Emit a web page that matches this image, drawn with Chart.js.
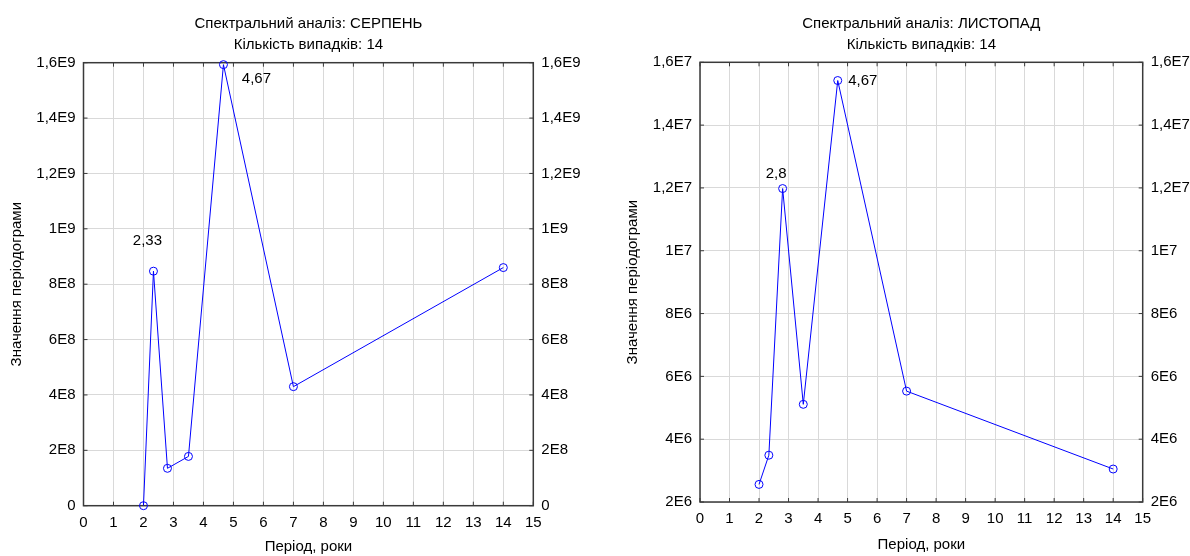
<!DOCTYPE html>
<html>
<head>
<meta charset="utf-8">
<script src="https://cdn.jsdelivr.net/npm/chart.js@4.4.0/dist/chart.umd.min.js"></script>
<style>
    body { margin: 0; background: #fff; }
    .panel { position: absolute; top: 0; width: 595px; height: 556px; }
    #left { left: 0; }
    #right { left: 595px; }
</style>
</head>
<body>
<div class="panel" id="left"><canvas id="chartAug" width="595" height="556"></canvas></div>
<div class="panel" id="right"><canvas id="chartNov" width="595" height="556"></canvas></div>
<script>
// Data
const periods = [2, 2.333, 2.8, 3.5, 4.667, 7, 14];
const augustValues = [0, 8.47e8, 1.35e8, 1.78e8, 1.593e9, 4.3e8, 8.6e8];
const novemberValues = [2.56e6, 3.49e6, 11.98e6, 5.11e6, 15.42e6, 5.53e6, 3.05e6];
const augustLabeled = [1, 4];
const novemberLabeled = [2, 4];
const xTicks = { min: 0, max: 15, step: 1 };
const augustY = { min: 0, max: 1.6e9, step: 2e8 };
const novemberY = { min: 2e6, max: 1.6e7, step: 2e6 };

const FONT = 'Arial, "Liberation Sans", sans-serif';
Chart.defaults.font.family = FONT;
Chart.defaults.font.size = 15;
Chart.defaults.color = '#000';

const GRID = '#d9d9d9';
const FRAME = '#3a3a3a';
const BLUE = '#0000ff';

// 1,6E9 style labels (comma decimal)
function sciLabel(v) {
    if (Math.abs(v) < 1e-6) return '0';
    const e = Math.floor(Math.log10(Math.abs(v)) + 1e-9);
    const m = Math.round(v / Math.pow(10, e) * 100) / 100;
    return String(m).replace('.', ',') + 'E' + e;
}

function periodLabel(x) {
    return String(Math.round(x * 100) / 100).replace('.', ',');
}

// Frame round the plot area with short inward ticks
const framePlugin = {
    id: 'frame',
    beforeDatasetsDraw(chart) {
        const { ctx, chartArea: a, scales } = chart;
        ctx.save();
        ctx.strokeStyle = FRAME;
        ctx.lineWidth = 1.5;
        ctx.strokeRect(a.left, a.top, a.right - a.left, a.bottom - a.top);
        ctx.lineWidth = 1;
        ctx.beginPath();
        scales.x.ticks.forEach(t => {
            const px = scales.x.getPixelForValue(t.value);
            ctx.moveTo(px, a.bottom); ctx.lineTo(px, a.bottom - 4);
            ctx.moveTo(px, a.top); ctx.lineTo(px, a.top + 4);
        });
        scales.y.ticks.forEach(t => {
            const py = scales.y.getPixelForValue(t.value);
            ctx.moveTo(a.left, py); ctx.lineTo(a.left + 4, py);
            ctx.moveTo(a.right, py); ctx.lineTo(a.right - 4, py);
        });
        ctx.stroke();
        ctx.restore();
    }
};

// Period labels next to chosen peaks
const peakLabelPlugin = {
    id: 'peakLabels',
    afterDatasetsDraw(chart, args, opts) {
        const { ctx, scales } = chart;
        const ds = chart.data.datasets[0].data;
        ctx.save();
        ctx.font = '15px ' + FONT;
        ctx.fillStyle = '#000';
        ctx.textAlign = 'center';
        ctx.textBaseline = 'middle';
        (opts.items || []).forEach(item => {
            const p = ds[item.index];
            const px = scales.x.getPixelForValue(p.x) + item.dx;
            const py = scales.y.getPixelForValue(p.y) + item.dy;
            ctx.fillText(periodLabel(p.x), px, py);
        });
        ctx.restore();
    }
};

function makeChart(canvasId, month, values, yRange, labeled, offsets, sizes) {
    const points = periods.map((p, i) => ({ x: p, y: values[i] }));
    return new Chart(document.getElementById(canvasId), {
        type: 'line',
        data: {
            datasets: [{
                data: points,
                borderColor: BLUE,
                borderWidth: 1,
                backgroundColor: 'rgba(0,0,0,0)',
                pointRadius: 4,
                pointBorderWidth: 1,
                pointBorderColor: BLUE,
                pointBackgroundColor: 'rgba(0,0,0,0)',
                tension: 0,
                clip: false
            }]
        },
        options: {
            responsive: false,
            animation: false,
            devicePixelRatio: 1,
            layout: { padding: 0 },
            plugins: {
                legend: { display: false },
                tooltip: { enabled: false },
                title: {
                    display: true,
                    fullSize: false,
                    text: ['Спектральний аналіз: ' + month, 'Кількість випадків: 14'],
                    font: { size: 15, weight: 'normal', lineHeight: 1.4 },
                    padding: { top: 13, bottom: sizes.titleBottom }
                },
                peakLabels: {
                    items: labeled.map((idx, k) => ({ index: idx, dx: offsets[k][0], dy: offsets[k][1] }))
                }
            },
            scales: {
                x: {
                    type: 'linear',
                    position: 'bottom',
                    min: xTicks.min,
                    max: xTicks.max,
                    ticks: { stepSize: xTicks.step, padding: 8, maxRotation: 0 },
                    grid: { color: GRID, drawTicks: false },
                    border: { display: false },
                    title: {
                        display: true,
                        text: 'Період, роки',
                        padding: { top: 0, bottom: sizes.xTitlePad }
                    },
                    afterFit: s => { s.height = sizes.xHeight; }
                },
                y: {
                    position: 'left',
                    min: yRange.min,
                    max: yRange.max,
                    ticks: { stepSize: yRange.step, padding: 8, callback: v => sciLabel(v) },
                    grid: { color: GRID, drawTicks: false },
                    border: { display: false },
                    title: {
                        display: true,
                        text: 'Значення періодограми',
                        padding: { top: sizes.yTitlePad, bottom: 0 }
                    },
                    afterFit: s => { s.width = sizes.leftWidth; }
                },
                y2: {
                    position: 'right',
                    min: yRange.min,
                    max: yRange.max,
                    ticks: { stepSize: yRange.step, padding: 8, callback: v => sciLabel(v) },
                    grid: { display: false, drawTicks: false },
                    border: { display: false },
                    afterFit: s => { s.width = sizes.rightWidth; }
                }
            }
        },
        plugins: [framePlugin, peakLabelPlugin]
    });
}

makeChart('chartAug', 'СЕРПЕНЬ', augustValues, augustY, augustLabeled,
    [[-6, -30], [33, 14]],
    { leftWidth: 83.5, rightWidth: 61.7, xHeight: 50.3, xTitlePad: 0, yTitlePad: 7.7, titleBottom: 7.7 });

makeChart('chartNov', 'ЛИСТОПАД', novemberValues, novemberY, novemberLabeled,
    [[-6.5, -14.5], [25, 0]],
    { leftWidth: 105, rightWidth: 47.3, xHeight: 54, xTitlePad: 2, yTitlePad: 29, titleBottom: 7.3 });
</script>
</body>
</html>
